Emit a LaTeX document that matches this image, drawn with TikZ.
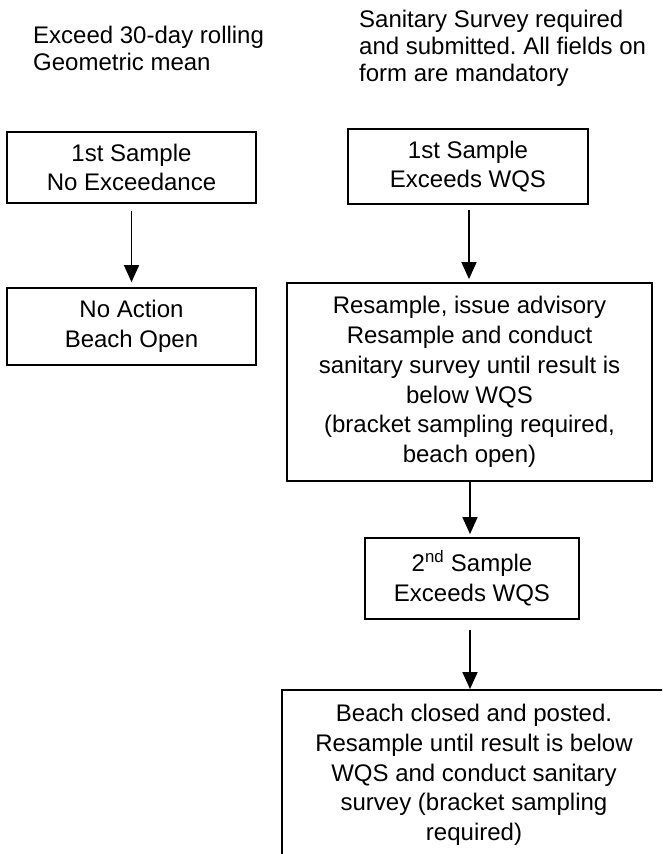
\documentclass[tikz,border=0pt]{standalone}
\usepackage{fontspec}
\setmainfont{Liberation Sans}
\usetikzlibrary{arrows.meta}
\frenchspacing
\begin{document}
\begin{tikzpicture}[x=1pt,y=-1pt,
  boxstyle/.style={draw=black, line width=1.8pt, rectangle, inner sep=0pt, align=center,
    font=\fontsize{24}{29.7}\selectfont},
  note/.style={inner sep=0pt, align=left, font=\fontsize{24}{27}\selectfont},
  arr/.style={line width=1.5pt, -{Triangle[length=17pt,width=15pt]}}]
\path[use as bounding box, clip] (0,0) rectangle (662,854);

\node[note, anchor=base west] (n1) at (33,70) {Exceed 30-day rolling\\Geometric mean};
\node[note, anchor=base west] (n2) at (359,81) {Sanitary Survey required\\and submitted. All fields on\\form are mandatory};

\node[boxstyle, minimum width=249pt, minimum height=71pt] (A) at (131.5,167.5) {1st Sample\\No Exceedance};
\node[boxstyle, minimum width=249pt, minimum height=77pt] (B) at (131.5,326.5) {No Action\\Beach Open};
\node[boxstyle, minimum width=240pt, minimum height=75pt] (C) at (468,166.5) {1st Sample\\Exceeds WQS};
\node[boxstyle, minimum width=365pt, minimum height=198pt] (D) at (469.5,382) {Resample, issue advisory\\Resample and conduct\\sanitary survey until result is\\below WQS\\(bracket sampling required,\\beach open)};
\node[boxstyle, minimum width=214pt, minimum height=81pt] (E) at (472,578.5) {2\textsuperscript{nd} Sample\\Exceeds WQS};
\node[boxstyle, minimum width=384pt, minimum height=170pt] (F) at (474,775) {Beach closed and posted.\\Resample until result is below\\WQS and conduct sanitary\\survey (bracket sampling\\required)};

\draw[arr, shorten <=7pt, shorten >=5pt] (A.south) -- (B.north);
\draw[arr, shorten <=5pt, shorten >=3pt] ([xshift=1pt]C.south) -- ([xshift=1pt]C.south |- D.north);
\draw[arr, shorten >=3pt] ([xshift=0.5pt]D.south) -- ([xshift=0.5pt]D.south |- E.north);
\draw[arr, shorten <=10pt] ([xshift=-2pt]E.south) -- ([xshift=-2pt]E.south |- F.north);
\end{tikzpicture}
\end{document}
